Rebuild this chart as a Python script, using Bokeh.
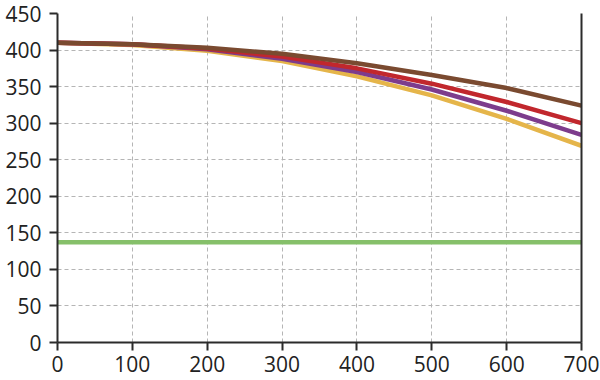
from bokeh.plotting import figure
from bokeh.models import FixedTicker, LinearAxis
from bokeh.embed import file_html
from bokeh.resources import INLINE

x_vals = [0, 100, 200, 300, 400, 500, 600, 700]
brown = [410, 408, 403, 395, 382, 366, 348, 324]
red = [410, 408, 402, 391, 375, 354, 329, 300]
purple = [410, 408, 401, 388, 370, 346, 317, 284]
yellow = [410, 407, 399, 385, 364, 338, 306, 269]
green = [137, 137, 137, 137, 137, 137, 137, 137]

x_ticks = [0, 100, 200, 300, 400, 500, 600, 700]
y_ticks = [0, 50, 100, 150, 200, 250, 300, 350, 400, 450]

series = [
    (green, "#86c06a"),
    (yellow, "#e5b54a"),
    (purple, "#7d3c8c"),
    (red, "#c1272d"),
    (brown, "#7a4a30"),
]

p = figure(width=600, height=380, x_range=(0, 700), y_range=(0, 450),
           output_backend="svg", toolbar_location=None,
           min_border_left=57, min_border_right=19, min_border_top=13, min_border_bottom=38)
p.outline_line_color = None
p.background_fill_color = "white"
p.border_fill_color = "white"

for ys, c in series:
    p.line(x_vals, ys, line_color=c, line_width=4.5)

for ax in (p.xaxis[0], p.yaxis[0]):
    ax.axis_line_color = "#2b2b2b"
    ax.axis_line_width = 2
    ax.major_tick_line_color = "#2b2b2b"
    ax.major_tick_line_width = 2
    ax.major_tick_out = 8
    ax.major_tick_in = 0
    ax.minor_tick_line_color = None
    ax.major_label_text_font = "Open Sans"
    ax.major_label_text_font_size = "21px"
    ax.major_label_text_color = "#222222"

p.xaxis[0].major_label_standoff = 5
p.yaxis[0].major_label_standoff = 8

p.xaxis[0].ticker = FixedTicker(ticks=x_ticks)
p.yaxis[0].ticker = FixedTicker(ticks=y_ticks)

right = LinearAxis(ticker=FixedTicker(ticks=[]), axis_line_color="#2b2b2b", axis_line_width=2,
                   major_tick_line_color=None, minor_tick_line_color=None,
                   major_label_text_font_size="0px")
p.add_layout(right, "right")

for g in (p.xgrid[0], p.ygrid[0]):
    g.grid_line_color = "#b5b5b5"
    g.grid_line_dash = "4 3"
    g.grid_line_width = 1
p.xgrid[0].ticker = FixedTicker(ticks=x_ticks)
p.ygrid[0].ticker = FixedTicker(ticks=y_ticks)

open("out.html", "w").write(file_html(p, INLINE))
